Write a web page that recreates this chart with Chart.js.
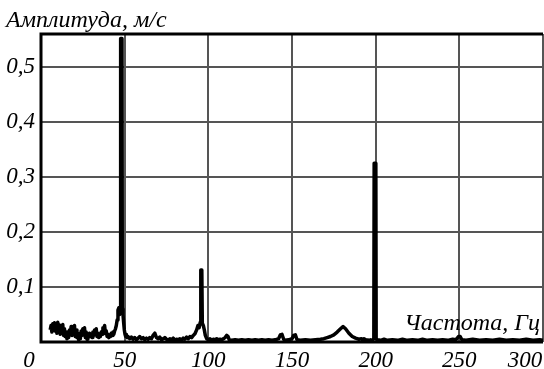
<!DOCTYPE html>
<html>
<head>
<meta charset="utf-8">
<script src="https://cdn.jsdelivr.net/npm/chart.js@4.4.1/dist/chart.umd.min.js"></script>
<style>
  html, body { margin: 0; padding: 0; background: #fff; }
  #wrap { width: 544px; height: 369px; }
</style>
</head>
<body>
<div id="wrap"><canvas id="spectrum" width="544" height="369"></canvas></div>
<script>
// Spectrum data (frequency in Hz, amplitude in m/s)
const freqs = [
    5.5, 6, 6.5, 7, 7.5, 8, 8.5, 9, 9.5, 10, 10.5, 11, 11.5, 12, 12.5, 13, 13.5, 14, 14.5, 15,
    15.5, 16, 16.5, 17, 17.5, 18, 18.5, 19, 19.5, 20, 20.5, 21, 21.5, 22, 22.5, 23, 23.5, 24, 24.5, 25,
    25.5, 26, 26.5, 27, 27.5, 28, 28.5, 29, 29.5, 30, 30.5, 31, 31.5, 32, 32.5, 33, 33.5, 34, 34.5, 35,
    35.5, 36, 36.5, 37, 37.5, 38, 38.5, 39, 39.5, 40, 40.5, 41, 41.5, 42, 42.5, 43, 43.5, 44, 44.5,
    45, 45.5, 46, 46.5, 47, 47.4, 47.6, 48.4, 48.6, 49, 49.4, 49.8, 50.2, 50.6, 51, 51.5,
    52, 53, 54, 55, 56, 57, 58, 59, 60, 61, 62, 63, 64, 65, 66, 67, 68, 69, 70, 71, 72, 73, 74, 75,
    76, 77, 78, 79, 80, 81, 82, 83, 84, 85, 86, 87, 88, 89, 90, 91, 92, 93, 93.8, 94.5, 95.2, 95.5,
    96.1, 96.4, 97, 97.6, 98.2, 99, 100, 101, 102, 103, 104, 105, 106, 107, 108, 109, 110, 111, 111.8,
    112.5, 114, 116, 118, 120, 122, 124, 126, 128, 130, 132, 134, 136, 138, 140, 142, 143, 144, 145,
    146, 148, 150, 151, 152, 153, 155, 158, 161, 164, 167, 169, 171, 173, 175, 177, 179, 180.5, 182,
    184, 186, 188, 190, 191.5, 192, 193, 194, 196, 197, 198, 198.9, 199.1, 200.1, 200.3, 201, 203, 205,
    207, 210, 213, 216, 219, 222, 225, 228, 231, 234, 237, 240, 243, 246, 248, 249.5, 250.5, 251.5,
    254, 258, 262, 266, 270, 274, 278, 282, 286, 290, 294, 298, 300
];
const amplitudes = [
    0.022, 0.030, 0.018, 0.033, 0.024, 0.035, 0.020, 0.030, 0.016, 0.036, 0.025, 0.031, 0.014, 0.028, 0.020, 0.032, 0.012, 0.024, 0.010, 0.018,
    0.006, 0.014, 0.008, 0.022, 0.015, 0.028, 0.012, 0.026, 0.018, 0.030, 0.010, 0.022, 0.008, 0.016, 0.004, 0.012, 0.006, 0.020, 0.012, 0.024,
    0.016, 0.026, 0.008, 0.018, 0.005, 0.012, 0.009, 0.016, 0.010, 0.014, 0.008, 0.018, 0.012, 0.022, 0.014, 0.024, 0.010, 0.016, 0.008, 0.012,
    0.010, 0.018, 0.014, 0.026, 0.020, 0.030, 0.016, 0.020, 0.010, 0.014, 0.008, 0.012, 0.010, 0.016, 0.012, 0.018, 0.014, 0.020, 0.024,
    0.030, 0.040, 0.058, 0.062, 0.050, 0.060, 0.552, 0.552, 0.060, 0.050, 0.035, 0.022, 0.014, 0.010, 0.014, 0.008,
    0.010, 0.006, 0.009, 0.005, 0.008, 0.004, 0.007, 0.010, 0.006, 0.008, 0.004, 0.007, 0.005, 0.008, 0.006, 0.012, 0.016, 0.008, 0.006, 0.009, 0.004, 0.006, 0.008, 0.005,
    0.003, 0.006, 0.004, 0.007, 0.003, 0.005, 0.004, 0.006, 0.003, 0.007, 0.005, 0.009, 0.006, 0.010, 0.008, 0.012, 0.015, 0.022, 0.030, 0.026, 0.036, 0.131,
    0.131, 0.034, 0.030, 0.022, 0.012, 0.006, 0.004, 0.006, 0.003, 0.005, 0.004, 0.006, 0.004, 0.005, 0.004, 0.006, 0.008, 0.012, 0.010,
    0.004, 0.003, 0.004, 0.003, 0.004, 0.003, 0.004, 0.003, 0.004, 0.003, 0.004, 0.003, 0.004, 0.003, 0.004, 0.006, 0.013, 0.014, 0.005,
    0.003, 0.004, 0.006, 0.012, 0.013, 0.004, 0.003, 0.004, 0.003, 0.004, 0.005, 0.006, 0.008, 0.010, 0.013, 0.018, 0.024, 0.028, 0.024,
    0.016, 0.010, 0.007, 0.005, 0.006, 0.004, 0.006, 0.004, 0.003, 0.004, 0.003, 0.006, 0.325, 0.325, 0.006, 0.004, 0.003, 0.005,
    0.003, 0.004, 0.003, 0.005, 0.003, 0.004, 0.003, 0.005, 0.003, 0.004, 0.003, 0.004, 0.003, 0.005, 0.004, 0.010, 0.010, 0.004,
    0.003, 0.005, 0.003, 0.004, 0.003, 0.005, 0.003, 0.004, 0.003, 0.005, 0.003, 0.004, 0.003
];

// Axis ticks
const xTicks = [0, 50, 100, 150, 200, 250, 300];
const yTicks = [0.1, 0.2, 0.3, 0.4, 0.5];

const yTitle = 'Амплитуда, м/с';
const xTitle = 'Частота, Гц';

const serif = '"Liberation Serif", "DejaVu Serif", serif';
const gridColor = '#555';

// Frame and text labels drawn on top of the chart
const framePlugin = {
    id: 'frame',
    afterDraw(chart) {
        const ctx = chart.ctx;
        const area = chart.chartArea;
        const xScale = chart.scales.x;
        ctx.save();

        // black frame (left, top, bottom)
        ctx.strokeStyle = '#000';
        ctx.lineWidth = 3;
        ctx.beginPath();
        ctx.moveTo(area.right, area.top);
        ctx.lineTo(area.left, area.top);
        ctx.lineTo(area.left, area.bottom);
        ctx.lineTo(area.right, area.bottom);
        ctx.stroke();

        // x tick labels
        ctx.fillStyle = '#000';
        ctx.font = 'italic 23px ' + serif;
        ctx.textBaseline = 'alphabetic';
        ctx.textAlign = 'center';
        xTicks.forEach((v, i) => {
            let px = xScale.getPixelForValue(v);
            if (i === 0) px -= 12;
            if (i === xTicks.length - 1) px -= 18;
            ctx.fillText(String(v), px, 367);
        });

        // axis titles
        ctx.font = 'italic 24px ' + serif;
        ctx.textAlign = 'left';
        ctx.fillText(yTitle, 6, 27);
        ctx.textAlign = 'right';
        ctx.fillText(xTitle, 540, 330);
        ctx.restore();
    }
};

const points = freqs.map((f, i) => ({ x: f, y: amplitudes[i] }));

new Chart(document.getElementById('spectrum'), {
    type: 'line',
    data: {
        datasets: [{
            data: points,
            borderColor: '#000',
            borderWidth: 3.5,
            borderJoinStyle: 'round',
            pointRadius: 0,
            fill: false,
            tension: 0
        }]
    },
    options: {
        responsive: false,
        animation: false,
        devicePixelRatio: 1,
        layout: { padding: { top: 34, right: 1, left: 0, bottom: 0 } },
        plugins: {
            legend: { display: false },
            tooltip: { enabled: false }
        },
        scales: {
            x: {
                type: 'linear',
                min: 0,
                max: 300,
                afterBuildTicks: (scale) => { scale.ticks = xTicks.map(v => ({ value: v })); },
                afterFit: (scale) => { scale.height = 27; },
                ticks: { display: false },
                border: { display: false },
                grid: { color: gridColor, lineWidth: 2, drawTicks: false }
            },
            y: {
                min: 0,
                max: 0.56,
                afterBuildTicks: (scale) => { scale.ticks = yTicks.map(v => ({ value: v })); },
                afterFit: (scale) => { scale.width = 41; },
                ticks: {
                    color: '#000',
                    padding: 6,
                    font: { family: serif, size: 23, style: 'italic' },
                    callback: (v) => v.toFixed(1).replace('.', ',')
                },
                border: { display: false },
                grid: { color: gridColor, lineWidth: 2, drawTicks: false }
            }
        }
    },
    plugins: [framePlugin]
});
</script>
</body>
</html>
